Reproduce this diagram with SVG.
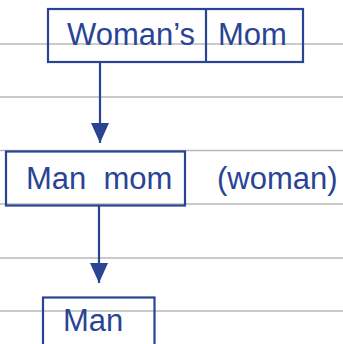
<svg xmlns="http://www.w3.org/2000/svg" width="343" height="344" viewBox="0 0 343 344">
<style>
.rule{stroke:#b8b8b8;stroke-width:1.3}
.box{fill:none;stroke:#2a4495;stroke-width:2.2}
.lbl{font-family:"Liberation Sans",Arial,sans-serif;font-size:31px;fill:#2a4495}
.conn{stroke:#2a4495;stroke-width:2.2;fill:none}
</style>
<defs>
<marker id="ah" viewBox="0 0 20 18" refX="20" refY="9" markerWidth="20" markerHeight="18" markerUnits="userSpaceOnUse" orient="auto">
<path d="M0,0 L20,9 L0,18 Z" fill="#2a4495"/>
</marker>
</defs>
<g id="rules">
<line class="rule" x1="0" y1="44" x2="343" y2="44"/>
<line class="rule" x1="0" y1="97" x2="343" y2="97"/>
<line class="rule" x1="0" y1="150.5" x2="343" y2="150.5"/>
<line class="rule" x1="0" y1="204" x2="343" y2="204"/>
<line class="rule" x1="0" y1="258" x2="343" y2="258"/>
<line class="rule" x1="0" y1="311" x2="343" y2="311"/>
</g>
<g id="connectors">
<line class="conn" x1="100" y1="62" x2="100" y2="143" marker-end="url(#ah)"/>
<line class="conn" x1="99" y1="206" x2="99" y2="283" marker-end="url(#ah)"/>
</g>
<g id="womans-mom">
<rect class="box" x="48" y="9" width="255" height="53"/>
<line class="box" x1="206" y1="9" x2="206" y2="62"/>
<text class="lbl" x="67" y="45">Woman’s</text>
<text class="lbl" x="218" y="45">Mom</text>
</g>
<g id="man-mom">
<rect class="box" x="6" y="151.5" width="179" height="54"/>
<text class="lbl" x="26" y="189" xml:space="preserve">Man  mom</text>
</g>
<g id="woman-label">
<text class="lbl" x="217" y="189">(woman)</text>
</g>
<g id="man">
<rect class="box" x="43" y="297.5" width="111.5" height="60"/>
<text class="lbl" x="63" y="331">Man</text>
</g>
</svg>
